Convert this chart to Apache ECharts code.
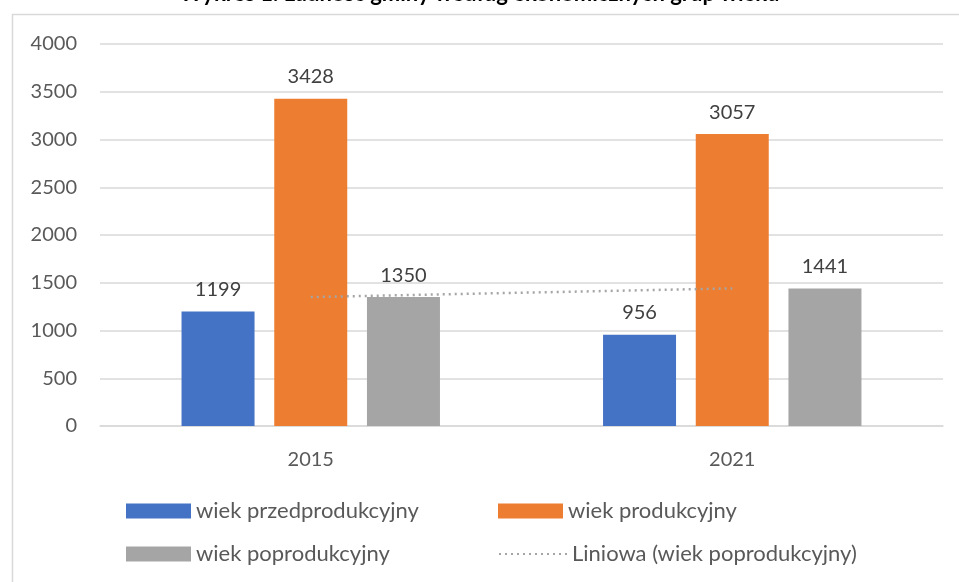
<!DOCTYPE html>
<html>
<head>
<meta charset="utf-8">
<script src="https://cdn.jsdelivr.net/npm/echarts@6/dist/echarts.min.js"></script>
<style>html,body{margin:0;padding:0;background:#fff}#c{width:959px;height:582px}</style>
</head>
<body>
<div id="c"></div>
<script>
const titleText = 'Wykres 1. Ludność gminy według ekonomicznych grup wieku';
const categories = ['2015', '2021'];
const seriesNames = ['wiek przedprodukcyjny', 'wiek produkcyjny', 'wiek poprodukcyjny'];
const przedprodukcyjny = [1199, 956];
const produkcyjny = [3428, 3057];
const poprodukcyjny = [1350, 1441];
const trendName = 'Liniowa (wiek poprodukcyjny)';
const trendValues = [1350, 1441];
const yTicks = [0, 500, 1000, 1500, 2000, 2500, 3000, 3500, 4000];

const FONT = 'Lato';
const colors = ['#4472c4', '#ed7d31', '#a5a5a5'];
const chart = echarts.init(document.getElementById('c'), null, {renderer: 'canvas'});

const labelStyle = {show: true, position: 'top', distance: 12, color: '#404040', fontSize: 20, fontFamily: FONT};
function bar(name, data, color) {
  return {name, type: 'bar', data, barWidth: 73, barGap: '27%', itemStyle: {color}, label: labelStyle};
}
const legText = {color: '#595959', fontSize: 22, fontFamily: FONT};
function leg(name, left, top) {
  return {data: [{name, icon: 'rect'}], left, top, itemWidth: 65, itemHeight: 15, itemGap: 0, textStyle: legText, selectedMode: false, padding: 0};
}

chart.setOption({
  backgroundColor: '#fff',
  animation: false,
  title: {text: titleText, left: 'center', top: -22, textStyle: {fontSize: 22, fontWeight: 'bold', color: '#000', fontFamily: FONT}},
  graphic: [{type: 'rect', left: 10, top: 12, shape: {width: 980, height: 600}, style: {fill: 'none', stroke: '#d9d9d9', lineWidth: 1.5}, z: -1}],
  grid: {left: 100, right: 16, top: 44, bottom: 156, containLabel: false},
  xAxis: {type: 'category', data: categories, axisLine: {lineStyle: {color: '#d9d9d9', width: 1.5}}, axisTick: {show: false},
    axisLabel: {color: '#595959', fontSize: 20, fontFamily: FONT, margin: 24}},
  yAxis: {type: 'value', min: yTicks[0], max: yTicks[yTicks.length - 1], interval: 500, axisLine: {show: false}, axisTick: {show: false},
    splitLine: {lineStyle: {color: '#d9d9d9', width: 1.5}},
    axisLabel: {color: '#595959', fontSize: 20, fontFamily: FONT, margin: 23, formatter: v => String(v)}},
  legend: [
    leg(seriesNames[0], 126, 500),
    leg(seriesNames[1], 498, 500),
    leg(seriesNames[2], 126, 543),
    {data: [{name: trendName}], left: 498, top: 543, itemWidth: 68, itemHeight: 15, textStyle: legText, selectedMode: false, padding: 0,
      itemStyle: {opacity: 0}, lineStyle: {type: [2, 4], width: 2, color: '#a5a5a5'}}
  ],
  series: [
    bar(seriesNames[0], przedprodukcyjny, colors[0]),
    bar(seriesNames[1], produkcyjny, colors[1]),
    bar(seriesNames[2], poprodukcyjny, colors[2]),
    {name: trendName, type: 'line', data: trendValues, symbol: 'none', showSymbol: false, z: 5,
      lineStyle: {color: '#a5a5a5', width: 2.5, type: [2, 4]}, itemStyle: {color: '#a5a5a5'}}
  ]
});
</script>
</body>
</html>
